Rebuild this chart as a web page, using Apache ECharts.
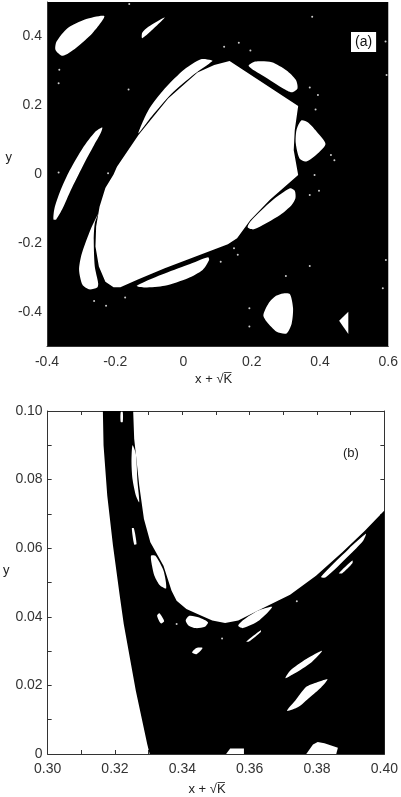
<!DOCTYPE html>
<html>
<head>
<meta charset="utf-8">
<title>chart</title>
<script src="https://cdn.jsdelivr.net/npm/echarts@6/dist/echarts.min.js"></script>
<style>
html, body { margin: 0; padding: 0; background: #fff; }
#chart { width: 401px; height: 797px; }
</style>
</head>
<body>
<div id="chart"></div>
<script>
// tick values
var xTicksA = [-0.4, -0.2, 0, 0.2, 0.4, 0.6];
var yTicksA = [-0.4, -0.2, 0, 0.2, 0.4];
var xTicksB = [0.30, 0.32, 0.34, 0.36, 0.38, 0.40];
var yTicksB = [0, 0.02, 0.04, 0.06, 0.08, 0.10];

// panel (a): white islands on black, [x, y]
var mainIslandA = [[0.135,0.329],[0.336,0.198],[0.326,0.128],[0.323,0.070],[0.336,-0.002],[0.254,-0.073],[0.196,-0.133],[0.157,-0.186],[0.130,-0.203],[-0.055,-0.273],[-0.132,-0.305],[-0.185,-0.328],[-0.205,-0.328],[-0.229,-0.312],[-0.248,-0.268],[-0.258,-0.210],[-0.256,-0.152],[-0.246,-0.094],[-0.229,-0.040],[-0.205,-0.001],[-0.195,0.022],[-0.132,0.114],[-0.045,0.220],[0.041,0.295],[0.090,0.317]];
var upperLeftA = [[-0.232,0.459],[-0.287,0.450],[-0.340,0.424],[-0.372,0.385],[-0.375,0.361],[-0.354,0.344],[-0.316,0.366],[-0.267,0.409]];
var topSmallA = [[-0.055,0.455],[-0.103,0.428],[-0.121,0.411],[-0.121,0.395],[-0.094,0.417]];
var topSliverA = [[0.080,0.332],[0.051,0.334],[0.003,0.305],[-0.055,0.249],[-0.103,0.186],[-0.132,0.119],[-0.094,0.167],[-0.036,0.233],[0.032,0.291],[0.085,0.329]];
var upperRightA = [[0.191,0.314],[0.210,0.327],[0.259,0.325],[0.302,0.301],[0.329,0.274],[0.334,0.249],[0.317,0.238],[0.292,0.249],[0.234,0.285]];
var rightBlobA = [[0.345,0.156],[0.365,0.150],[0.394,0.119],[0.416,0.088],[0.394,0.061],[0.360,0.037],[0.340,0.046],[0.329,0.090],[0.331,0.128]];
var lowerRightA = [[0.312,-0.041],[0.326,-0.048],[0.328,-0.070],[0.317,-0.089],[0.283,-0.118],[0.206,-0.160],[0.188,-0.154],[0.198,-0.135],[0.259,-0.077]];
var leftLongA = [[-0.238,0.136],[-0.258,0.124],[-0.296,0.075],[-0.333,0.012],[-0.362,-0.051],[-0.378,-0.099],[-0.381,-0.131],[-0.373,-0.131],[-0.354,-0.099],[-0.330,-0.046],[-0.296,0.022],[-0.262,0.085],[-0.243,0.119]];
var lowerLeftA = [[-0.250,-0.115],[-0.275,-0.167],[-0.299,-0.234],[-0.306,-0.278],[-0.296,-0.321],[-0.277,-0.334],[-0.253,-0.329],[-0.250,-0.317],[-0.260,-0.268],[-0.263,-0.191],[-0.260,-0.143]];
var bottomSliverA = [[0.072,-0.241],[0.013,-0.263],[-0.065,-0.292],[-0.137,-0.324],[-0.113,-0.329],[-0.055,-0.324],[0.013,-0.302],[0.056,-0.278],[0.075,-0.249]];
var bottomBlobA = [[0.292,-0.346],[0.312,-0.348],[0.321,-0.389],[0.317,-0.433],[0.302,-0.462],[0.273,-0.457],[0.244,-0.428],[0.234,-0.409],[0.249,-0.375],[0.271,-0.353]];
var triangleA = [[0.483,-0.399],[0.456,-0.425],[0.483,-0.464]];
var specksA = [[-0.161,0.246],[-0.366,0.264],[-0.366,0.005],[-0.364,0.303],[0.162,0.382],[0.119,0.370],[0.196,0.359],[0.370,0.252],[0.394,0.230],[0.387,0.188],[0.432,0.056],[0.442,0.041],[0.384,-0.002],[0.370,-0.060],[0.397,-0.048],[0.377,0.457],[0.592,0.385],[0.595,0.288],[-0.221,0.003],[-0.159,0.494],[0.370,-0.266],[0.593,-0.249],[0.584,-0.331],[0.193,-0.389],[0.193,-0.442],[-0.262,-0.368],[-0.227,-0.382],[-0.171,-0.358],[0.109,-0.254],[0.159,-0.234],[0.148,-0.215],[0.300,-0.295]];

// panel (b): black region on white, then white islands inside it
var blackRegionB = [[0.3164,0.100],[0.3166,0.0900],[0.3177,0.0754],[0.3194,0.0608],[0.3214,0.0462],[0.3226,0.0379],[0.3262,0.0184],[0.3296,0.0028],[0.3303,0],[0.40,0],[0.40,0.0710],[0.3942,0.0651],[0.3875,0.0588],[0.3797,0.0520],[0.3720,0.0464],[0.3643,0.0427],[0.3566,0.0389],[0.3527,0.0382],[0.3489,0.0389],[0.3450,0.0406],[0.3412,0.0423],[0.3383,0.0447],[0.3368,0.0476],[0.3344,0.0549],[0.3305,0.0617],[0.3286,0.0685],[0.3272,0.0783],[0.3257,0.0919],[0.3254,0.100]];
var slotTopB = [[0.3217,0.0997],[0.3223,0.0997],[0.3223,0.0968],[0.3217,0.0968]];
var slotUpperB = [[0.3252,0.0900],[0.3262,0.0875],[0.3267,0.0793],[0.3272,0.0734],[0.3262,0.0754],[0.3252,0.0802],[0.3249,0.0851]];
var slotMidB = [[0.3250,0.0658],[0.3256,0.0658],[0.3264,0.0612],[0.3257,0.0611]];
var slotLowerB = [[0.3307,0.0578],[0.3320,0.0578],[0.3344,0.0535],[0.3352,0.0483],[0.3334,0.0491],[0.3317,0.0520],[0.3310,0.0549]];
var edgeLongB = [[0.3945,0.0642],[0.3894,0.0598],[0.3812,0.0517],[0.3826,0.0515],[0.3894,0.0578],[0.3937,0.0622]];
var edgeThinB = [[0.3905,0.0564],[0.3865,0.0527],[0.3875,0.0527],[0.3905,0.0556]];
var dotLeftB = [[0.3332,0.0410],[0.3346,0.0387],[0.3336,0.0381],[0.3325,0.0403]];
var blobMidB = [[0.3421,0.0403],[0.3450,0.0398],[0.3476,0.0384],[0.3467,0.0371],[0.3440,0.0367],[0.3419,0.0374],[0.3410,0.0389]];
var sliverMidB = [[0.3667,0.0429],[0.3624,0.0418],[0.3580,0.0390],[0.3566,0.0374],[0.3580,0.0367],[0.3629,0.0390]];
var sliverLowB = [[0.3633,0.0361],[0.3590,0.0328],[0.3598,0.0328],[0.3633,0.0356]];
var dotLowB = [[0.3460,0.0309],[0.3442,0.0309],[0.3429,0.0296],[0.3442,0.0291]];
var longRightB = [[0.3815,0.0301],[0.3768,0.0277],[0.3720,0.0243],[0.3706,0.0221],[0.3730,0.0233],[0.3783,0.0267]];
var leafRightB = [[0.3831,0.0218],[0.3797,0.0208],[0.3768,0.0196],[0.3735,0.0155],[0.3711,0.0126],[0.3744,0.0137],[0.3778,0.0165],[0.3812,0.0194]];
var baseLeftB = [[0.3530,0],[0.3542,0.0016],[0.3583,0.0016],[0.3583,0]];
var baseRightB = [[0.3768,0],[0.3788,0.0028],[0.3802,0.0035],[0.3822,0.0031],[0.3862,0.0018],[0.3857,0]];
var specksB = [[0.3518,0.0337],[0.3383,0.0379],[0.3740,0.0445]];

var islandsA = [upperLeftA, topSmallA, topSliverA, upperRightA, rightBlobA, lowerRightA, leftLongA, lowerLeftA, bottomSliverA, bottomBlobA];
var cornersA = [mainIslandA, triangleA];
var islandsB = [slotTopB, slotUpperB, slotMidB, slotLowerB, edgeLongB, edgeThinB, dotLeftB, blobMidB, sliverMidB, sliverLowB, dotLowB, longRightB, leafRightB];
var cornersB = [baseLeftB, baseRightB];

var font = 'Liberation Sans';

function polygons(name, list, color, axisIndex, smooth) {
    return {
        name: name,
        type: 'custom',
        xAxisIndex: axisIndex,
        yAxisIndex: axisIndex,
        clip: true,
        silent: true,
        data: list.map(function (p, i) { return [i]; }),
        renderItem: function (params, api) {
            var pts = list[api.value(0)].map(function (p) { return api.coord(p); });
            return { type: 'polygon', shape: { points: pts, smooth: smooth }, style: { fill: color } };
        }
    };
}

function specks(name, list, axisIndex) {
    return {
        name: name,
        type: 'scatter',
        xAxisIndex: axisIndex,
        yAxisIndex: axisIndex,
        silent: true,
        symbolSize: 2,
        itemStyle: { color: '#fff' },
        data: list
    };
}

function tickFormat(digits) {
    return function (v) { return Math.abs(v) < 1e-9 ? '0' : v.toFixed(digits); };
}

function mainAxis(gridIndex, range, step, digits, name, extra) {
    var ax = {
        gridIndex: gridIndex,
        type: 'value',
        min: range[0],
        max: range[1],
        interval: step,
        name: name,
        nameLocation: 'middle',
        splitLine: { show: false },
        axisLine: { show: true, onZero: false, lineStyle: { color: '#333', width: 1 } },
        axisTick: { show: gridIndex == 1, inside: true, length: 4, lineStyle: { color: '#333' } },
        minorTick: { show: gridIndex == 1, splitNumber: 2, length: 4, lineStyle: { color: '#333' } },
        axisLabel: { show: true, showMinLabel: true, showMaxLabel: true, fontFamily: font, fontSize: 14, color: '#333', formatter: tickFormat(digits) }
    };
    for (var k in extra) ax[k] = extra[k];
    return ax;
}

// unlabeled opposite side of panel (b)
function sideAxis(range, step, position) {
    return {
        gridIndex: 1,
        type: 'value',
        position: position,
        min: range[0],
        max: range[1],
        interval: step,
        splitLine: { show: false },
        axisLabel: { show: false },
        axisLine: { show: true, onZero: false, lineStyle: { color: '#333', width: 1 } },
        axisTick: { show: true, inside: true, length: 4, lineStyle: { color: '#333' } },
        minorTick: { show: true, splitNumber: 2, length: 4, lineStyle: { color: '#333' } }
    };
}

var xName = 'x + \u221AK\u0305';

var option = {
    animation: false,
    backgroundColor: '#fff',
    title: [
        { text: '(a)', left: 351, top: 32, padding: [3, 4], backgroundColor: '#fff', textStyle: { fontFamily: font, fontSize: 14, fontWeight: 'normal', color: '#111' } },
        { text: '(b)', left: 343, top: 447, padding: 0, textStyle: { fontFamily: font, fontSize: 13, fontWeight: 'normal', color: '#222' } }
    ],
    grid: [
        { left: 47, top: 2, width: 346, height: 344.5, show: true, backgroundColor: '#000', borderWidth: 0 },
        { left: 44.5, top: 411, width: 345.5, height: 343, show: false }
    ],
    xAxis: [
        mainAxis(0, [xTicksA[0], xTicksA[xTicksA.length - 1]], 0.2, 1, xName, { position: 'bottom', nameGap: 26, nameTextStyle: { fontFamily: font, fontSize: 13, color: '#222', padding: [0, 8, 0, 0] }, axisLabel: { show: true, showMinLabel: true, showMaxLabel: true, margin: 9, fontFamily: font, fontSize: 14, color: '#333', formatter: tickFormat(1) } }),
        mainAxis(1, [xTicksB[0], xTicksB[xTicksB.length - 1]], 0.02, 2, xName, { position: 'bottom', nameGap: 29, nameTextStyle: { fontFamily: font, fontSize: 13, color: '#222', padding: [0, 18, 0, 0] } }),
        sideAxis([xTicksB[0], xTicksB[xTicksB.length - 1]], 0.02, 'top')
    ],
    yAxis: [
        mainAxis(0, [-0.5, 0.5], 0.1, 1, 'y', { position: 'left', nameGap: 35, nameRotate: 0, nameTextStyle: { fontFamily: font, fontSize: 13, color: '#222', verticalAlign: 'bottom', padding: [0, 0, 10, 0] }, axisLabel: { show: true, margin: 5, fontFamily: font, fontSize: 14, color: '#333', formatter: function (v) { return yTicksA.some(function (t) { return Math.abs(t - v) < 1e-9; }) ? tickFormat(1)(v) : ''; } } }),
        mainAxis(1, [yTicksB[0], yTicksB[yTicksB.length - 1]], 0.02, 2, 'y', { position: 'left', nameGap: 35, nameRotate: 0, nameTextStyle: { fontFamily: font, fontSize: 13, color: '#222', verticalAlign: 'bottom', padding: [0, 0, 6, 0] }, axisLabel: { show: true, showMinLabel: true, showMaxLabel: true, margin: 5, fontFamily: font, fontSize: 14, color: '#333', formatter: tickFormat(2) } }),
        sideAxis([yTicksB[0], yTicksB[yTicksB.length - 1]], 0.02, 'right')
    ],
    series: [
        polygons('main a', cornersA, '#fff', 0, 0),
        polygons('islands a', islandsA, '#fff', 0, 0.25),
        specks('specks a', specksA, 0),
        polygons('black b', [blackRegionB], '#000', 1, 0),
        polygons('islands b', islandsB, '#fff', 1, 0.25),
        polygons('base b', cornersB, '#fff', 1, 0),
        specks('specks b', specksB, 1)
    ]
};

var myChart = echarts.init(document.getElementById('chart'), null, { renderer: 'canvas' });
myChart.setOption(option);
</script>
</body>
</html>
